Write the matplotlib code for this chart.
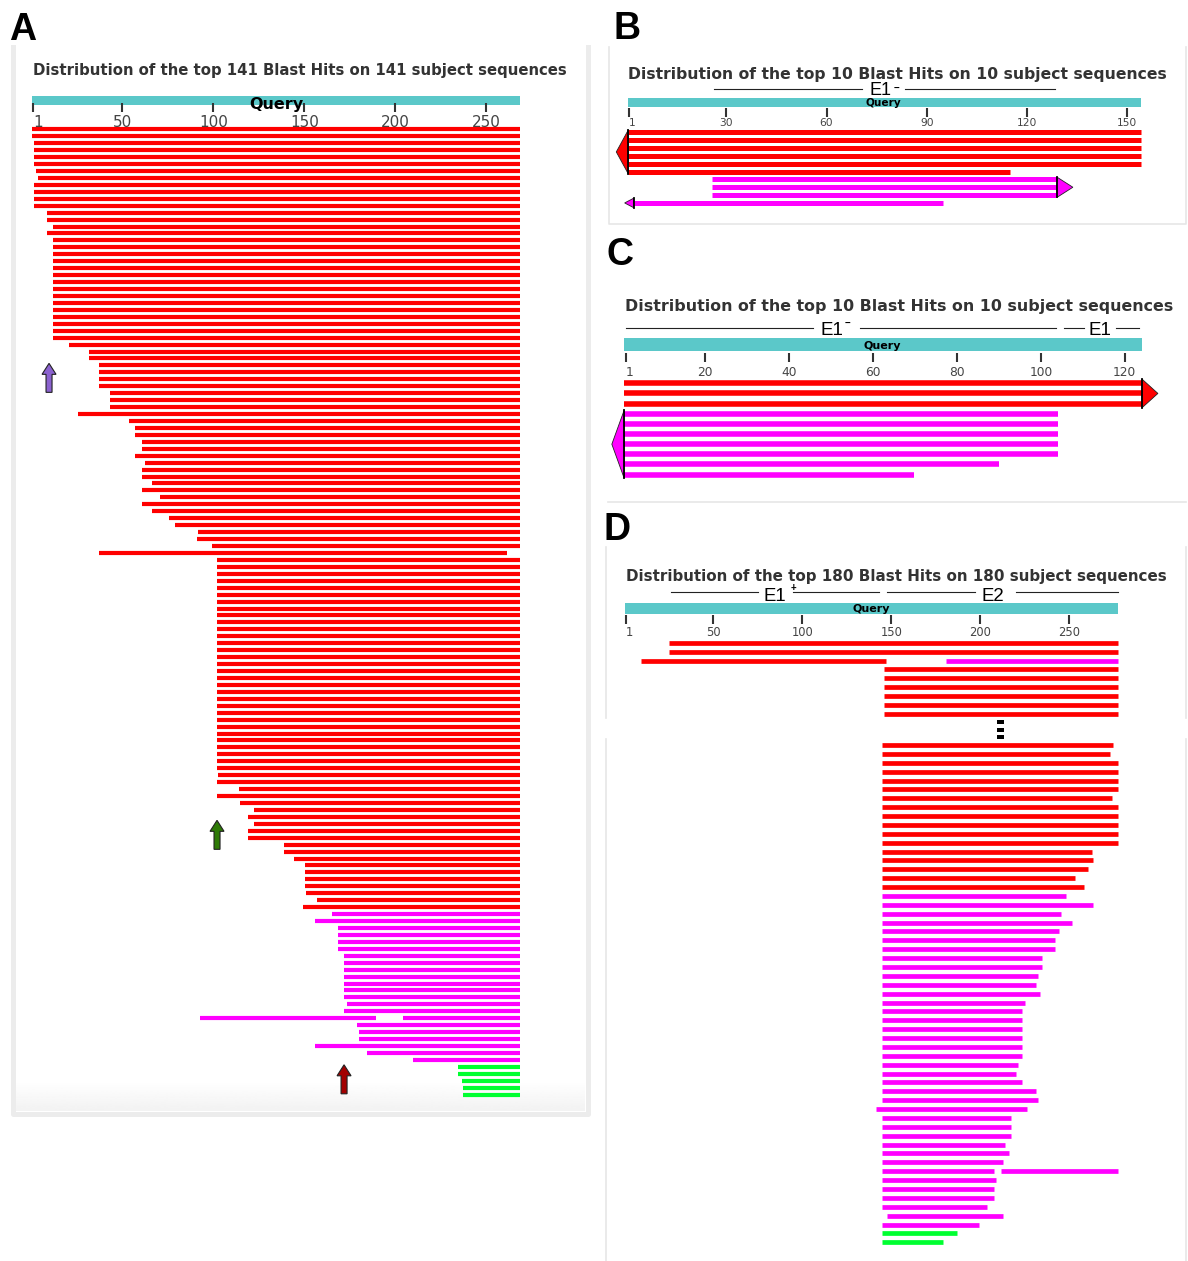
import numpy as np
import matplotlib
matplotlib.use("Agg")
import matplotlib.pyplot as plt
from matplotlib.patches import Rectangle, Polygon, FancyArrow
from matplotlib.transforms import blended_transform_factory

# ==================================================
# 1. DATA (query coordinates)
# ==================================================
# hit groups: 0 = red, 1 = magenta, 2 = green
a_title = "Distribution of the top 141 Blast Hits on 141 subject sequences"
a_query = [0.5, 268.5]
a_ticks = [1, 50, 100, 150, 200, 250]
a_start = ([0.6, 0.6] + [1.6] * 4 + [2.6, 3.7] + [1.6] * 4 + [8.5, 8.5, 11.7, 8.5] + [11.7] * 15
           + [20.4, 31.8, 31.8] + [37.4] * 4 + [43] * 3
           + [25.8, 53.8, 56.9, 56.9, 60.6, 60.6, 56.9, 62.7, 60.6, 60.6, 66, 60.6, 70.8,
              60.6, 66, 75.5, 78.8, 91.7, 91, 99.1, 37.4]
           + [101.8] * 31
           + [102.8, 101.8, 114.3, 101.8, 114.7, 122.1, 118.8, 122.1, 118.8, 118.8, 138.9, 138.9, 144.3]
           + [150.1] * 4 + [151.1, 156.9, 149]
           + [165, 155.8] + [168.5] * 4 + [172] * 7
           + [173.3, 172, 92.7, 179, 180, 180, 155.8, 184.4, 209.7]
           + [234.3, 234.3, 236.4, 237.4, 237.4])
a_end = [268.5] * 61 + [261.4] + [268.5] * 66 + [189.2] + [268.5] * 11
a_group = [0] * 113 + [1] * 22 + [2] * 5
a_split_row = [128]
a_split_start = [204.1]
a_split_end = [268.5]
a_split_group = [1]
a_arrow_x = [9.7, 102, 171.8]
a_arrow_row = [33.7, 99.5, 134.7]
a_arrow_color = ["#8b62cf", "#2e7a06", "#a30000"]

b_title = "Distribution of the top 10 Blast Hits on 10 subject sequences"
b_query = [0.7, 154]
b_ticks = [1, 30, 60, 90, 120, 150]
b_start = [0.7] * 6 + [25.7] * 3 + [2.3]
b_end = [154] * 5 + [115] + [128.9] * 3 + [94.7]
b_group = [0] * 6 + [1] * 4
b_strand_rows = [(0, 5), (6, 8), (9, 9)]
b_strand_dir = [-1, 1, -1]
b_exon_labels = ["E1"]
b_exon_x = [76.2]
b_exon_signs = ["\u2212"]
b_exon_sign_x = [80.8]
b_exon_lines = [(26.3, 70.6), (83.5, 128.3)]

c_title = "Distribution of the top 10 Blast Hits on 10 subject sequences"
c_query = [0.7, 124.1]
c_ticks = [1, 20, 40, 60, 80, 100, 120]
c_start = [0.7] * 10
c_end = [124.1] * 3 + [104.1] * 5 + [90, 69.7]
c_group = [0] * 3 + [1] * 7
c_strand_rows = [(0, 2), (3, 9)]
c_strand_dir = [1, -1]
c_exon_labels = ["E1", "E1"]
c_exon_x = [50.2, 114.2]
c_exon_signs = ["\u2212"]
c_exon_sign_x = [54.0]
c_exon_lines = [(1, 45.6), (57, 103.6), (105.6, 110.4), (117.9, 123.5)]

d_title = "Distribution of the top 180 Blast Hits on 180 subject sequences"
d_query = [0.5, 277.5]
d_ticks = [1, 50, 100, 150, 200, 250]
d_exon_labels = ["E1", "E2"]
d_exon_x = [84.8, 207.2]
d_exon_signs = ["+"]
d_exon_sign_x = [94.8]
d_exon_lines = [(26, 74.9), (95, 142.8), (147.3, 197.2), (219.8, 277.4)]
# first screenshot (top of the list)
d1_start = [25.4, 25.4, 9.2] + [145.6] * 6
d1_end = [277.5, 277.5, 147] + [277.5] * 6
d1_group = [0] * 9
d1_split_row = [2]
d1_split_start = [180.8]
d1_split_end = [277.5]
d1_split_group = [1]
# second screenshot (bottom of the list)
d2_start = [145] * 41 + [141.4] + [145] * 11 + [147.5] + [145] * 3
d2_end = [274.3, 272.6, 277.5, 277.5, 277.5, 277.5, 273.7, 277.5, 277.5, 277.5, 277.5, 277.5,
          262.5, 263.2, 260.4, 253.3, 258.3, 248.2, 263.2, 245.4, 251.6, 244.3, 242.1, 242.1,
          234.4, 234.4, 232.2, 231.1, 233.3, 225, 223.3, 223.3, 223.3, 223.3, 223.3, 223.3,
          221.1, 220, 223.3, 231.4, 232.2, 226.2, 217.2, 217.2, 217.2, 214, 216, 212.9,
          207.8, 208.9, 207.8, 207.8, 203.9, 212.9, 199, 186.7, 179]
d2_group = [0] * 17 + [1] * 38 + [2] * 2
d2_split_row = [48]
d2_split_start = [211.4]
d2_split_end = [277.5]
d2_split_group = [1]

# ==================================================
# 2. STYLE / HELPERS
# ==================================================
W, H = 1188, 1261
COLS = {0: "#ff0000", 1: "#ff00ff", 2: "#00ff30"}
QCOL = "#5bc8c9"
SANS = ["DejaVu Sans"]
ARIAL = ["Liberation Sans", "DejaVu Sans"]

fig = plt.figure(figsize=(W / 100, H / 100), dpi=100)
renderer = fig.canvas.get_renderer()
bg = fig.add_axes([0, 0, 1, 1])
bg.axis("off")


def panel(box, x1_px, ux, row0_px, uy):
    l, t, r, b = box
    ax = fig.add_axes([l / W, 1 - b / H, (r - l) / W, (b - t) / H])
    ax.set_xlim(1 + (l - x1_px) / ux, 1 + (r - x1_px) / ux)
    ax.set_ylim((b - row0_px) / uy, (t - row0_px) / uy)
    ax.axis("off")
    hdr = blended_transform_factory(ax.transData, bg.transData)
    return ax, hdr


def header(ax, hdr, query, ticks, bar_y, tick_y, lab_y, lab_fs, q_x, q_y, q_fs):
    ax.add_patch(Rectangle((query[0], bar_y[0]), query[1] - query[0], bar_y[1] - bar_y[0],
                           transform=hdr, color=QCOL, lw=0, clip_on=False))
    ax.text(q_x, q_y, "Query", transform=hdr, ha="center", va="baseline", fontsize=q_fs,
            fontweight="bold", family=SANS, color="black")
    for t in ticks:
        ax.plot([t, t], tick_y, transform=hdr, color="#333333", lw=1.5,
                solid_capstyle="butt", zorder=4, clip_on=False)
        ax.text(t, lab_y, str(t), transform=hdr, ha="left" if t == 1 else "center",
                va="baseline", fontsize=lab_fs, color="#444444", family=SANS)


def hits(ax, start, end, group, lw, rows=None):
    if rows is None:
        rows = np.arange(len(start))
    ax.hlines(rows, start, end, colors=[COLS[g] for g in group], lw=lw, capstyle="butt")


def strand(ax, ux, start, end, group, rows, direction, length_px, pad):
    r0, r1 = rows
    if direction < 0:
        base = min(start[r0:r1 + 1])
    else:
        base = max(end[r0:r1 + 1])
    tip = base + direction * length_px / ux
    ax.add_patch(Polygon([[base, r0 - pad], [tip, (r0 + r1) / 2], [base, r1 + pad]], closed=True,
                         fc=COLS[group[r0]], ec="#222222", lw=0.6, clip_on=False, zorder=3))
    ax.plot([base, base], [r0 - pad, r1 + pad], color="black", lw=1.3, zorder=4, clip_on=False)


def title(x_px, y_px, text, width_px):
    t = bg.text(x_px, y_px, text, fontsize=10, fontweight="bold", color="#333333",
                family=SANS, va="baseline")
    w = t.get_window_extent(renderer).width
    t.set_fontsize(10 * width_px / w)


def exons(ax, hdr, labels, xs, signs, sign_x, lines, line_y, lab_y, fs, sign_y):
    for seg in lines:
        ax.plot(seg, [line_y, line_y], transform=hdr, color="#222222", lw=0.8, clip_on=False)
    for lab, x in zip(labels, xs):
        ax.text(x, lab_y, lab, transform=hdr, ha="center", va="baseline", fontsize=fs,
                family=ARIAL, color="black")
    for s, x in zip(signs, sign_x):
        ax.text(x, sign_y, s, transform=hdr, ha="center", va="center", fontsize=7,
                fontweight="bold", family=ARIAL, color="black")


bg.set_xlim(0, W)
bg.set_ylim(H, 0)

# ==================================================
# 3. FRAMES AND PANEL LETTERS
# ==================================================
grad = np.linspace(1.0, 0.95, 30)[:, None]
bg.imshow(grad, cmap="gray", vmin=0, vmax=1, extent=(15, 585, 1111, 1080), aspect="auto")
bg.plot([12.5, 12.5, 587.5, 587.5], [47, 1113.5, 1113.5, 47], color="#ececec", lw=3.6)
bg.plot([608.5, 608.5, 1186, 1186], [47, 224, 224, 47], color="#e6e6e6", lw=1.2)
bg.plot([608, 1186], [502, 502], color="#e6e6e6", lw=1.2)
for y0, y1 in [(547, 718), (739, 1261)]:
    bg.plot([605.6, 605.6], [y0, y1], color="#e6e6e6", lw=1.2)
    bg.plot([1185.5, 1185.5], [y0, y1], color="#e6e6e6", lw=1.2)
for y in [722, 729.7, 737]:
    bg.add_patch(Rectangle((997.3, y - 2), 6.4, 4, color="black", lw=0))

for letter, x, y in [("A", 9, 40), ("B", 613, 39), ("C", 606, 265), ("D", 603, 540)]:
    bg.text(x, y, letter, fontsize=27, fontweight="bold", family=ARIAL, va="baseline")

bg.set_xlim(0, W)
bg.set_ylim(H, 0)

# ==================================================
# 4. PANEL A
# ==================================================
ax_a, hdr_a = panel((15, 47, 586, 1110), 33.2, 1.82, 129.3, 6.945)
title(33, 74.5, a_title, 533)
header(ax_a, hdr_a, a_query, a_ticks, (95.5, 104.5), (103.3, 112), 126.7, 11,
       134.4, 108.5, 11.5)
hits(ax_a, a_start, a_end, a_group, 3.0)
hits(ax_a, a_split_start, a_split_end, a_split_group, 3.0, rows=a_split_row)
for x, r, c in zip(a_arrow_x, a_arrow_row, a_arrow_color):
    L = 29 / 6.945
    ax_a.add_patch(FancyArrow(x, r + L, 0, -L, width=6 / 1.82, head_width=14 / 1.82,
                              head_length=11 / 6.945, length_includes_head=True,
                              fc=c, ec="#222222", lw=0.8, zorder=5))

# ==================================================
# 5. PANEL B
# ==================================================
ax_b, hdr_b = panel((609, 47, 1185, 223), 629.3, 3.343, 132.3, 7.85)
title(628, 78.5, b_title, 539)
exons(ax_b, hdr_b, b_exon_labels, b_exon_x, b_exon_signs, b_exon_sign_x, b_exon_lines,
      89, 95, 13, 87.5)
header(ax_b, hdr_b, b_query, b_ticks, (97.7, 107.3), (107.7, 117.3), 126.5, 7.7,
       76.9, 106.5, 7.6)
hits(ax_b, b_start, b_end, b_group, 3.6)
for rows, d, L, p in zip(b_strand_rows, b_strand_dir, [12, 16, 9], [0.3, 0.3, 0.6]):
    strand(ax_b, 3.343, b_start, b_end, b_group, rows, d, L, p)

# ==================================================
# 6. PANEL C
# ==================================================
ax_c, hdr_c = panel((600, 280, 1188, 500), 625.5, 4.195, 383.3, 10.15)
title(625, 311.5, c_title, 545)
exons(ax_c, hdr_c, c_exon_labels, c_exon_x, c_exon_signs, c_exon_sign_x, c_exon_lines,
      327.7, 335, 13.5, 322.5)
header(ax_c, hdr_c, c_query, c_ticks, (338.3, 351), (352.7, 361.7), 375.5, 8.8,
       62.2, 348.8, 8)
hits(ax_c, c_start, c_end, c_group, 4.0)
for rows, d, L, p in zip(c_strand_rows, c_strand_dir, [16, 12.4], [0.42, 0.37]):
    strand(ax_c, 4.195, c_start, c_end, c_group, rows, d, L, p)

# ==================================================
# 7. PANEL D
# ==================================================
ax_d1, hdr_d = panel((606, 547, 1185, 718), 626, 1.781, 642.7, 8.92)
title(625.5, 581, d_title, 541)
exons(ax_d1, hdr_d, d_exon_labels, d_exon_x, d_exon_signs, d_exon_sign_x, d_exon_lines,
      591.7, 600.7, 13.4, 588)
header(ax_d1, hdr_d, d_query, d_ticks, (603, 614.3), (615, 624), 636, 8.3,
       138.6, 612, 8)
hits(ax_d1, d1_start, d1_end, d1_group, 3.4)
hits(ax_d1, d1_split_start, d1_split_end, d1_split_group, 3.4, rows=d1_split_row)

ax_d2, _ = panel((606, 740, 1185, 1261), 626, 1.781, 745, 8.88)
hits(ax_d2, d2_start, d2_end, d2_group, 3.4)
hits(ax_d2, d2_split_start, d2_split_end, d2_split_group, 3.4, rows=d2_split_row)

fig.savefig("out.png", dpi=100)
